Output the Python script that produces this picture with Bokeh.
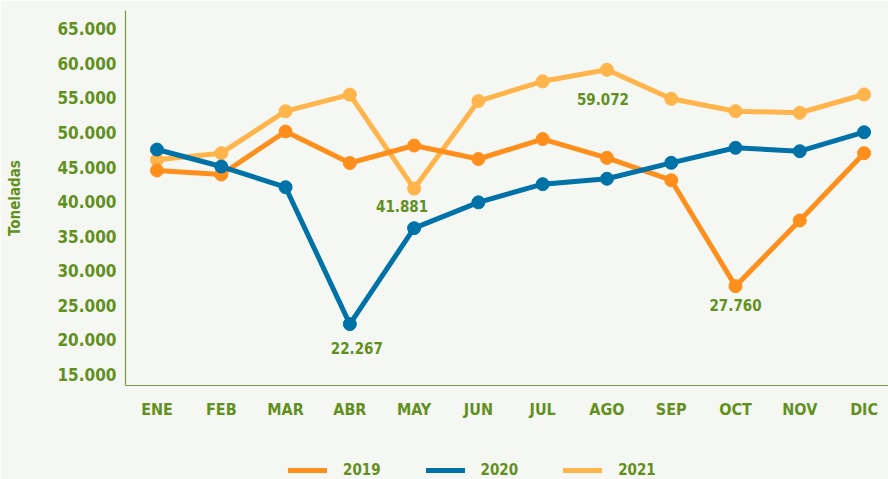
from bokeh.plotting import figure
from bokeh.models import Range1d, FixedTicker, Legend, LegendItem, ColumnDataSource, LabelSet
from bokeh.core.properties import value
from bokeh.embed import file_html
from bokeh.resources import INLINE

# ---- data ----
months = ["ENE", "FEB", "MAR", "ABR", "MAY", "JUN", "JUL", "AGO", "SEP", "OCT", "NOV", "DIC"]
y2019 = [44500, 43920, 50140, 45580, 48110, 46160, 49050, 46330, 43090, 27760, 37260, 47000]
y2020 = [47530, 45070, 42080, 22267, 36150, 39890, 42520, 43300, 45610, 47780, 47290, 50040]
y2021 = [46040, 47000, 53080, 55470, 41881, 54550, 57400, 59072, 54870, 53080, 52850, 55490]
y_ticks = [15000, 20000, 25000, 30000, 35000, 40000, 45000, 50000, 55000, 60000, 65000]
ann_months = ["ABR", "MAY", "AGO", "OCT"]
ann_series = ["2020", "2021", "2021", "2019"]
legend_names = ["2019", "2020", "2021"]
y_title = "Toneladas"

# ---- styles ----
FONT = "DejaVu Sans Condensed"
GREEN = "#62901f"
BG = "#f5f7f2"
AXIS = "#7a9b45"
COLORS = {"2019": "#ff8f1c", "2020": "#0072a8", "2021": "#ffb44c"}
series = {"2019": y2019, "2020": y2020, "2021": y2021}
Y_AXIS_BASE = 13380   # where the horizontal axis line sits
Y_TOP = 67650

x = list(range(len(months)))

# frame runs to the bottom edge so the legend can sit under the axis
p = figure(width=888, height=479, output_backend="svg", toolbar_location=None,
           x_range=Range1d(-0.49, 11.38), y_range=Range1d(-220, Y_TOP),
           min_border_left=125, min_border_right=0, min_border_top=10, min_border_bottom=0)
p.background_fill_color = BG
p.border_fill_color = BG
p.outline_line_color = None
p.grid.visible = False

rends = {}
for name in ["2021", "2019", "2020"]:
    src = ColumnDataSource(dict(x=x, y=series[name]))
    rends[name] = p.line("x", "y", source=src, line_color=COLORS[name], line_width=5,
                         line_join="round", line_cap="round")
    p.scatter("x", "y", source=src, size=13, fill_color=COLORS[name], line_color=COLORS[name])

# annotations
ax, ay, at, adx, ady = [], [], [], [], []
offs = {"ABR": (7, -24), "MAY": (-12, -17), "AGO": (-4, -29), "OCT": (0, -19)}
for m, s in zip(ann_months, ann_series):
    i = months.index(m)
    v = series[s][i]
    ax.append(i)
    ay.append(v)
    at.append(f"{v:,}".replace(",", "."))
    adx.append(offs[m][0])
    ady.append(offs[m][1])
asrc = ColumnDataSource(dict(x=ax, y=ay, text=at, dx=adx, dy=ady))
p.add_layout(LabelSet(x="x", y="y", text="text", source=asrc, x_offset="dx", y_offset="dy",
                      text_align="center", text_baseline="middle", text_font=value(FONT),
                      text_font_style="bold", text_font_size="15px", text_color=GREEN))

# axes
p.xaxis.fixed_location = Y_AXIS_BASE
p.xaxis.ticker = FixedTicker(ticks=x)
p.xaxis.major_label_overrides = {i: m for i, m in enumerate(months)}
p.yaxis.ticker = FixedTicker(ticks=y_ticks)
p.yaxis.bounds = (Y_AXIS_BASE, Y_TOP)
p.yaxis.major_label_overrides = {v: f"{v:,}".replace(",", ".") for v in y_ticks}
for ax_ in (p.xaxis, p.yaxis):
    ax_.axis_line_color = AXIS
    ax_.axis_line_width = 1.2
    ax_.major_tick_line_color = None
    ax_.minor_tick_line_color = None
    ax_.major_tick_out = 0
    ax_.major_tick_in = 0
    ax_.minor_tick_out = 0
    ax_.major_label_text_font = FONT
    ax_.major_label_text_font_style = "bold"
    ax_.major_label_text_color = GREEN
p.yaxis.major_label_text_font_size = "17px"
p.yaxis.major_label_standoff = 9
p.xaxis.major_label_text_font_size = "16px"
p.xaxis.major_label_standoff = 14
# leading no-break spaces lift the rotated title to the middle of the drawn y axis
p.yaxis.axis_label = "\u00a0" * 20 + y_title
p.yaxis.axis_label_text_font = FONT
p.yaxis.axis_label_text_font_style = "bold"
p.yaxis.axis_label_text_font_size = "15px"
p.yaxis.axis_label_text_color = GREEN
p.yaxis.axis_label_standoff = 30

legend = Legend(items=[LegendItem(label=n, renderers=[rends[n]]) for n in legend_names],
                orientation="horizontal", location=(163, 0),
                glyph_width=39, glyph_height=18, label_height=18, label_standoff=16, spacing=45,
                padding=0, margin=0, background_fill_alpha=0, border_line_color=None,
                label_text_font=FONT, label_text_font_style="bold", label_text_font_size="15px",
                label_text_color=GREEN)
p.add_layout(legend, "center")

open("out.html", "w").write(file_html(p, INLINE))
